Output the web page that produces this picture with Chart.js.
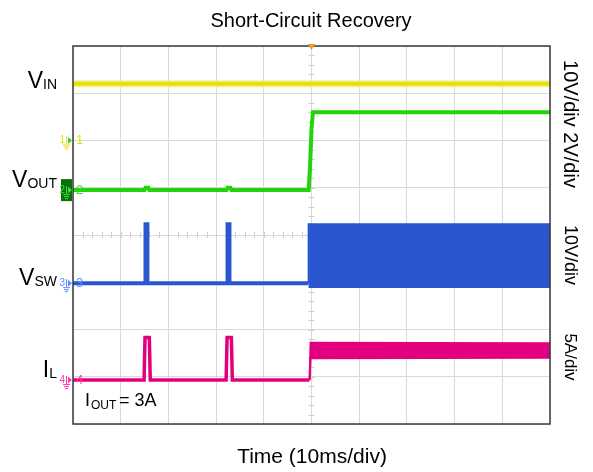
<!DOCTYPE html>
<html>
<head>
<meta charset="utf-8">
<script src="https://cdn.jsdelivr.net/npm/chart.js@4.4.0/dist/chart.umd.min.js"></script>
<style>
  html, body { margin: 0; padding: 0; background: #fff; }
  #wrap { width: 593px; height: 472px; position: relative; }
</style>
</head>
<body>
<div id="wrap"><canvas id="scope"></canvas></div>
<script>
// time base: 10 ms/div, 10 divisions across
const timeMin = 0;
const timeMax = 100;
const timeStep = 10;
const vertDivs = 8;

// CH1 VIN, 10V/div
const vinTime = [0, 100];
const vinVolts = [12, 12];

// CH2 VOUT, 2V/div
const voutTime = [0, 15.0, 15.2, 15.8, 16.0, 32.2, 32.4, 33.0, 33.2, 49.4, 49.7, 50.0, 50.3, 100];
const voutVolts = [0, 0, 0.1, 0.1, 0, 0, 0.1, 0.1, 0, 0, 1.0, 2.6, 3.3, 3.3];

// CH3 VSW, 10V/div
const vswTime = [0, 15.2, 15.2, 15.6, 15.6, 32.4, 32.4, 32.8, 32.8, 49.4];
const vswVolts = [0, 0, 12.5, 12.5, 0, 0, 12.5, 12.5, 0, 0];
const vswBandTime = [49.4, 49.4, 100];
const vswBandHigh = [0, 12.5, 12.5];
const vswBandLow = [-0.8, -0.8, -0.8];

// CH4 IL, 5A/div
const ilTime = [0, 14.9, 15.1, 16.0, 16.2, 32.1, 32.3, 33.2, 33.4, 49.6];
const ilAmps = [0, 0, 4.5, 4.5, 0, 0, 4.5, 4.5, 0, 0];
const ilBandTime = [49.6, 49.8, 100];
const ilBandHigh = [0, 3.95, 3.9];
const ilBandLow = [0, 2.3, 2.35];

// ground marker (div from bottom) and volts-or-amps per div
const channels = {
  vin:  { ground: 6.0,  perDiv: 10, color: '#e9e10a' },
  vout: { ground: 4.95, perDiv: 2,  color: '#22d40a' },
  vsw:  { ground: 2.98, perDiv: 10, color: '#2a56d0' },
  il:   { ground: 0.93, perDiv: 5,  color: '#e2007e' }
};

function toDivs(ch, times, vals) {
  const c = channels[ch];
  return times.map((t, i) => ({ x: t, y: c.ground + vals[i] / c.perDiv }));
}

const FONT = '"Liberation Sans", Arial, sans-serif';

const scopeDecor = {
  id: 'scopeDecor',
  beforeDatasetsDraw(chart) {
    const { ctx, scales } = chart;
    const xs = scales.x, ys = scales.y;
    ctx.save();
    ctx.strokeStyle = '#cfcfcf';
    ctx.lineWidth = 1;
    const cy = ys.getPixelForValue(vertDivs / 2);
    const cx = xs.getPixelForValue((timeMin + timeMax) / 2);
    ctx.beginPath();
    for (let t = timeMin; t <= timeMax; t += timeStep / 5) {
      const px = Math.round(xs.getPixelForValue(t)) + 0.5;
      ctx.moveTo(px, cy - 3); ctx.lineTo(px, cy + 3);
    }
    for (let d = 0; d <= vertDivs; d += 0.2) {
      const py = Math.round(ys.getPixelForValue(d)) + 0.5;
      ctx.moveTo(cx - 3, py); ctx.lineTo(cx + 3, py);
    }
    ctx.stroke();
    ctx.restore();
  },
  afterDraw(chart) {
    const { ctx, chartArea: a, scales } = chart;
    const ys = scales.y;
    ctx.save();
    // frame
    ctx.strokeStyle = '#3a3a3a';
    ctx.lineWidth = 1.5;
    ctx.strokeRect(a.left, a.top, a.right - a.left, a.bottom - a.top);

    // trigger marker
    const tx = scales.x.getPixelForValue(50);
    ctx.fillStyle = '#f39c23';
    ctx.beginPath();
    ctx.moveTo(tx - 4, a.top - 2); ctx.lineTo(tx + 4, a.top - 2); ctx.lineTo(tx, a.top + 4);
    ctx.closePath(); ctx.fill();

    ctx.fillStyle = '#000';
    ctx.textBaseline = 'alphabetic';
    ctx.textAlign = 'center';
    ctx.font = '20px ' + FONT;
    ctx.fillText('Short-Circuit Recovery', 311, 27);
    ctx.font = '21px ' + FONT;
    ctx.fillText('Time (10ms/div)', 312, 463);

    // left signal names with subscripts
    function sub(main, low, right, base, big, small) {
      ctx.textAlign = 'left';
      ctx.font = small + 'px ' + FONT;
      const wl = ctx.measureText(low).width;
      ctx.font = big + 'px ' + FONT;
      const wm = ctx.measureText(main).width;
      const x0 = right - wl - wm;
      ctx.fillText(main, x0, base);
      ctx.font = small + 'px ' + FONT;
      ctx.fillText(low, x0 + wm, base + 1);
    }
    sub('V', 'IN', 57, 88, 23, 14);
    sub('V', 'OUT', 57, 187, 23, 14);
    sub('V', 'SW', 57, 285, 23, 14);
    sub('I', 'L', 57, 377, 23, 14);
    // I_OUT note
    ctx.textAlign = 'left';
    ctx.font = '18px ' + FONT;
    ctx.fillText('I', 85, 406);
    ctx.font = '12px ' + FONT;
    ctx.fillText('OUT', 91, 409);
    ctx.font = '18px ' + FONT;
    ctx.fillText(' = 3A', 114, 406);

    // right scale labels, rotated
    function vlabel(text, x, y, size) {
      ctx.save();
      ctx.translate(x, y);
      ctx.rotate(Math.PI / 2);
      ctx.textAlign = 'center';
      ctx.textBaseline = 'middle';
      ctx.font = size + 'px ' + FONT;
      ctx.fillText(text, 0, 0);
      ctx.restore();
    }
    vlabel('10V/div 2V/div', 570, 124, 20);
    vlabel('10V/div', 570, 255, 18);
    vlabel('5A/div', 570, 357, 17);

    // channel ground markers
    const marks = [
      ['1', channels.vin, '#e8e000'],
      ['2', channels.vout, '#33e033'],
      ['3', channels.vsw, '#5a8cff'],
      ['4', channels.il, '#ff3aa8']
    ];
    marks.forEach(([n, c, col]) => {
      const py = ys.getPixelForValue(c.ground);
      if (n === '2') {
        ctx.fillStyle = '#0b6e0b';
        ctx.fillRect(a.left - 12, py - 11, 11, 22);
      }
      ctx.strokeStyle = col;
      ctx.fillStyle = col;
      ctx.lineWidth = 1;
      // ground symbol
      const gx = a.left - 7;
      ctx.beginPath();
      ctx.moveTo(gx + 0.5, py - 4); ctx.lineTo(gx + 0.5, py + 4);
      ctx.moveTo(gx - 3, py + 4.5); ctx.lineTo(gx + 4, py + 4.5);
      ctx.moveTo(gx - 2, py + 6.5); ctx.lineTo(gx + 3, py + 6.5);
      ctx.moveTo(gx - 1, py + 8.5); ctx.lineTo(gx + 2, py + 8.5);
      ctx.stroke();
      ctx.font = '10px ' + FONT;
      ctx.textAlign = 'right';
      ctx.textBaseline = 'middle';
      ctx.fillText(n, gx - 1, py);
      ctx.fillStyle = n === '1' ? '#33cc33' : col;
      ctx.beginPath();
      ctx.moveTo(a.left - 5, py - 3.5); ctx.lineTo(a.left - 1, py); ctx.lineTo(a.left - 5, py + 3.5);
      ctx.closePath(); ctx.fill();
      ctx.fillStyle = col;
      ctx.font = '13px ' + FONT;
      ctx.textAlign = 'left';
      ctx.fillText(n, a.left + 3, py);
    });
    ctx.restore();
  }
};

function trace(data, color, width, extra) {
  return Object.assign({
    data: data,
    borderColor: color,
    backgroundColor: color,
    borderWidth: width,
    pointRadius: 0,
    tension: 0,
    fill: false
  }, extra || {});
}

new Chart(document.getElementById('scope'), {
  type: 'line',
  data: {
    datasets: [
      trace(toDivs('vin', vinTime, vinVolts), channels.vin.color, 4, { order: 0 }),
      trace(toDivs('vin', vinTime, vinVolts), '#f3ee9a', 7, { order: 1 }),
      trace(toDivs('vout', voutTime, voutVolts), channels.vout.color, 4),
      trace(toDivs('vsw', vswTime, vswVolts), channels.vsw.color, 4),
      trace(toDivs('vsw', vswBandTime, vswBandHigh), channels.vsw.color, 2, { fill: '+1' }),
      trace(toDivs('vsw', vswBandTime, vswBandLow), channels.vsw.color, 2),
      trace(toDivs('il', ilTime, ilAmps), channels.il.color, 3.5),
      trace(toDivs('il', ilBandTime, ilBandHigh), channels.il.color, 2, { fill: '+1' }),
      trace(toDivs('il', ilBandTime, ilBandLow), channels.il.color, 2)
    ]
  },
  options: {
    responsive: true,
    maintainAspectRatio: false,
    animation: false,
    layout: { padding: { left: 73, right: 43, top: 46, bottom: 48 } },
    plugins: { legend: { display: false }, tooltip: { enabled: false } },
    scales: {
      x: {
        type: 'linear', min: timeMin, max: timeMax,
        ticks: { display: false, stepSize: timeStep },
        grid: { color: '#d9d9d9', drawTicks: false },
        border: { display: false }
      },
      y: {
        min: 0, max: vertDivs,
        ticks: { display: false, stepSize: 1 },
        grid: { color: '#d9d9d9', drawTicks: false },
        border: { display: false }
      }
    }
  },
  plugins: [scopeDecor]
});
</script>
</body>
</html>
